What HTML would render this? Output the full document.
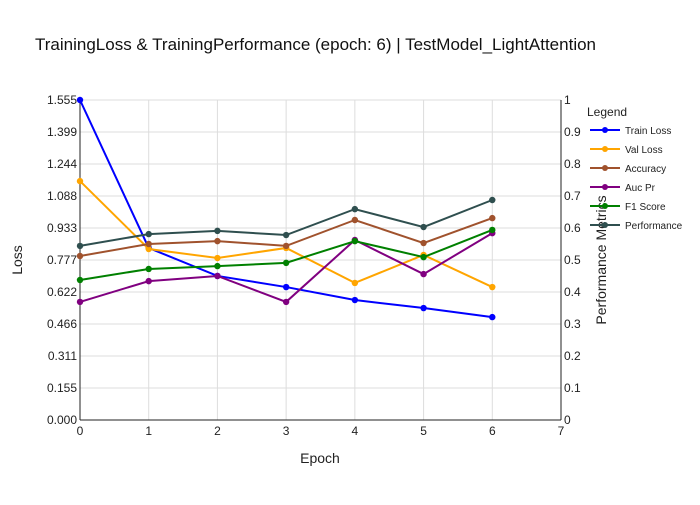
<!DOCTYPE html>
<html><head><meta charset="utf-8"><style>
body{margin:0;background:#fff;font-family:"Liberation Sans",sans-serif}
</style></head><body>
<svg id="c" width="700" height="500" xmlns="http://www.w3.org/2000/svg" font-family="Liberation Sans, sans-serif"></svg>
<script>
const epochs=[0,1,2,3,4,5,6];
const trainLoss=[1.555,0.836,0.700,0.646,0.583,0.544,0.500];
const valLoss=[1.161,0.831,0.787,0.836,0.666,0.802,0.646];
const accuracy=[0.5125,0.55,0.559,0.544,0.625,0.553,0.631];
const aucPr=[0.369,0.434,0.45,0.369,0.5625,0.456,0.584];
const f1Score=[0.4375,0.472,0.481,0.491,0.559,0.509,0.594];
const performance=[0.544,0.581,0.591,0.578,0.659,0.603,0.6875];
const leftTicks=["0.000","0.155","0.311","0.466","0.622","0.777","0.933","1.088","1.244","1.399","1.555"];
const rightTicks=["0","0.1","0.2","0.3","0.4","0.5","0.6","0.7","0.8","0.9","1"];
const xTicks=[0,1,2,3,4,5,6,7];
const L=80,R=561,T=100,B=420;
const xs=e=>L+(R-L)*e/7;
const yl=v=>B-(B-T)*v/1.555;
const yr=v=>B-(B-T)*v;
const svg=document.getElementById('c');
const NS='http://www.w3.org/2000/svg';
function mk(tag,attrs,txt){const e=document.createElementNS(NS,tag);for(const k in attrs)e.setAttribute(k,attrs[k]);if(txt!==undefined)e.textContent=txt;svg.appendChild(e);return e;}
let t=mk('text',{x:35,y:50,'font-size':17,fill:'#111'},'TrainingLoss & TrainingPerformance (epoch: 6) | TestModel_LightAttention');


leftTicks.forEach((s,i)=>{const y=B-(B-T)*i/10;
 let g=mk('line',{x1:L,x2:R,y1:y,y2:y,stroke:'#ddd','stroke-width':1});
 
 
 let l=mk('text',{x:L-3,y:y+4,'text-anchor':'end','font-size':12,fill:'#222'},s);
 
 
 let r=mk('text',{x:R+3,y:y+4,'font-size':12,fill:'#222'},rightTicks[i]);
 
 });
xTicks.forEach(e=>{const x=xs(e);
 let g=mk('line',{x1:x,x2:x,y1:T,y2:B,stroke:'#ddd','stroke-width':1});
 
 
 let l=mk('text',{x:x,y:B+15,'text-anchor':'middle','font-size':12,fill:'#222'},String(e));
 
 });
let a=mk('line',{x1:L,x2:L,y1:T,y2:B,stroke:'#222'});
a=mk('line',{x1:R,x2:R,y1:T,y2:B,stroke:'#222'});
a=mk('line',{x1:L,x2:R,y1:B,y2:B,stroke:'#222'});
t=mk('text',{x:320,y:463,'text-anchor':'middle','font-size':14,fill:'#222'},'Epoch');
t=mk('text',{x:22,y:260,'text-anchor':'middle','font-size':14,fill:'#222',transform:'rotate(-90 22 260)'},'Loss');
t=mk('text',{x:606,y:260,'text-anchor':'middle','font-size':14,fill:'#222',transform:'rotate(-90 606 260)'},'Performance Metrics');
const series=[["Train Loss",trainLoss,'#0000ff',yl],["Val Loss",valLoss,'#ffa500',yl],["Accuracy",accuracy,'#a0522d',yr],["Auc Pr",aucPr,'#800080',yr],["F1 Score",f1Score,'#008000',yr],["Performance",performance,'#2f4f4f',yr]];
series.forEach(([name,vals,col,yf])=>{
 const pts=vals.map((v,i)=>xs(epochs[i])+','+yf(v)).join(' ');
 let p=mk('polyline',{points:pts,fill:'none',stroke:col,'stroke-width':2});
 
 
 vals.forEach((v,i)=>{let c=mk('circle',{cx:xs(epochs[i]),cy:yf(v),r:3.2,fill:col});
  
  });
});
t=mk('text',{x:587,y:116,'font-size':12,fill:'#222'},'Legend');
series.forEach(([name,,col],i)=>{const y=130+i*19;
 let l=mk('line',{x1:590,x2:620,y1:y,y2:y,stroke:col,'stroke-width':2});
 
 
 mk('circle',{cx:605,cy:y,r:3,fill:col});
 let tx=mk('text',{x:625,y:y+4,'font-size':10,fill:'#222'},name);
 
 });
</script>
</body></html>
